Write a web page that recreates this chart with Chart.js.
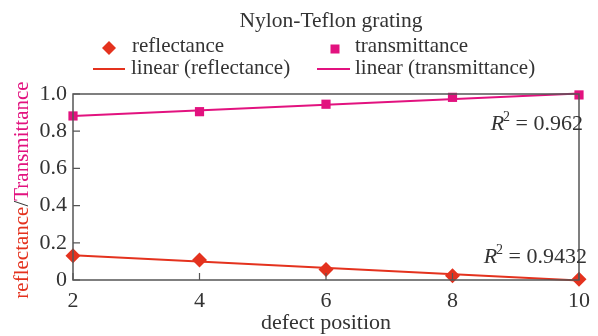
<!DOCTYPE html>
<html>
<head>
<meta charset="utf-8">
<script src="https://cdn.jsdelivr.net/npm/chart.js@4.4.1/dist/chart.umd.min.js"></script>
<style>
  html, body { margin: 0; padding: 0; background: #fff; }
  #wrap { width: 598px; height: 336px; position: relative; }
</style>
</head>
<body>
<div id="wrap"><canvas id="c" width="598" height="336"></canvas></div>
<script>
// Defect positions along the grating
const positions = [2, 4, 6, 8, 10];
// Measured reflectance and transmittance at each defect position
const reflectance = [0.131, 0.108, 0.057, 0.023, 0.004];
const transmittance = [0.882, 0.905, 0.945, 0.982, 0.995];
// Coefficients of determination shown next to the trend lines
const r2Labels = ['0.962', '0.9432'];
const xTicks = [2, 4, 6, 8, 10];
const yTicks = [0, 0.2, 0.4, 0.6, 0.8, 1.0];

const RED = '#e4321e';
const MAGENTA = '#e2127f';
const AXIS = '#555555';
const TEXT = '#333333';
const SERIF = '"Liberation Serif", "Times New Roman", serif';

// Least-squares straight line through the measured points
function linearFit(xs, ys) {
  const n = xs.length;
  const mx = xs.reduce((a, b) => a + b, 0) / n;
  const my = ys.reduce((a, b) => a + b, 0) / n;
  let sxy = 0, sxx = 0;
  for (let i = 0; i < n; i++) { sxy += (xs[i] - mx) * (ys[i] - my); sxx += (xs[i] - mx) ** 2; }
  const slope = sxy / sxx;
  const icpt = my - slope * mx;
  const x0 = xs[0], x1 = xs[n - 1];
  return [{ x: x0, y: icpt + slope * x0 }, { x: x1, y: icpt + slope * x1 }];
}

const pts = (ys) => positions.map((x, i) => ({ x, y: ys[i] }));

// Frame, inward tick marks, legend block, R² notes and the two-colour y title
const decorations = {
  id: 'decorations',
  afterDraw(chart) {
    const { ctx, chartArea: a, scales: { x, y } } = chart;
    ctx.save();
    ctx.strokeStyle = AXIS;
    ctx.lineWidth = 1.5;
    ctx.strokeRect(a.left, a.top, a.right - a.left, a.bottom - a.top);
    ctx.lineWidth = 1.2;
    ctx.beginPath();
    yTicks.forEach(v => { const py = y.getPixelForValue(v); ctx.moveTo(a.left, py); ctx.lineTo(a.left + 7, py); });
    xTicks.forEach(v => { const px = x.getPixelForValue(v); ctx.moveTo(px, a.bottom); ctx.lineTo(px, a.bottom - 7); });
    ctx.stroke();

    // Title and legend
    ctx.fillStyle = TEXT;
    ctx.textBaseline = 'middle';
    ctx.textAlign = 'center';
    ctx.font = '21.5px ' + SERIF;
    ctx.fillText('Nylon-Teflon grating', 331, 21);
    ctx.textAlign = 'left';
    ctx.font = '21px ' + SERIF;
    ctx.fillText('reflectance', 132, 46);
    ctx.fillText('transmittance', 355, 46);
    ctx.fillText('linear (reflectance)', 131, 68);
    ctx.fillText('linear (transmittance)', 355, 68);
    ctx.fillStyle = RED;
    ctx.beginPath();
    ctx.moveTo(109, 48 - 7); ctx.lineTo(116, 48); ctx.lineTo(109, 48 + 7); ctx.lineTo(102, 48); ctx.closePath();
    ctx.fill();
    ctx.fillStyle = MAGENTA;
    ctx.fillRect(330.5, 44.5, 9, 9);
    ctx.lineWidth = 2;
    ctx.strokeStyle = RED;
    ctx.beginPath(); ctx.moveTo(93, 69); ctx.lineTo(125, 69); ctx.stroke();
    ctx.strokeStyle = MAGENTA;
    ctx.beginPath(); ctx.moveTo(317, 69); ctx.lineTo(350, 69); ctx.stroke();

    // R² annotations, right-aligned inside the frame
    const drawR2 = (val, right, cy) => {
      ctx.fillStyle = TEXT;
      ctx.font = '22px ' + SERIF;
      const rest = ' = ' + val;
      const wRest = ctx.measureText(rest).width;
      ctx.font = '14px ' + SERIF;
      const wSup = ctx.measureText('2').width;
      ctx.font = 'italic 22px ' + SERIF;
      const wR = ctx.measureText('R').width;
      let px = right - wRest - wSup - wR + 1;
      ctx.textAlign = 'left';
      ctx.fillText('R', px, cy);
      px += wR - 1;
      ctx.font = '14px ' + SERIF;
      ctx.fillText('2', px, cy - 7);
      px += wSup;
      ctx.font = '22px ' + SERIF;
      ctx.fillText(rest, px, cy);
    };
    drawR2(r2Labels[0], 583, 124);
    drawR2(r2Labels[1], 587, 257);

    // Rotated axis title in two colours
    ctx.translate(22, 190);
    ctx.rotate(-Math.PI / 2);
    ctx.font = '21px ' + SERIF;
    const parts = [['reflectance', RED], ['/', TEXT], ['Transmittance', MAGENTA]];
    const total = parts.reduce((s, p) => s + ctx.measureText(p[0]).width, 0);
    let tx = -total / 2;
    parts.forEach(([t, c]) => { ctx.fillStyle = c; ctx.fillText(t, tx, 0); tx += ctx.measureText(t).width; });
    ctx.restore();
  }
};

new Chart(document.getElementById('c'), {
  type: 'scatter',
  data: {
    datasets: [
      { label: 'reflectance', data: pts(reflectance), pointStyle: 'rectRot', pointRadius: 7.5, pointHoverRadius: 7.5,
        backgroundColor: RED, borderColor: RED, borderWidth: 0, order: 0 },
      { label: 'transmittance', data: pts(transmittance), pointStyle: 'rect', pointRadius: 6.5, pointHoverRadius: 6.5,
        backgroundColor: MAGENTA, borderColor: MAGENTA, borderWidth: 0, order: 0 },
      { label: 'linear (reflectance)', data: linearFit(positions, reflectance), showLine: true, pointRadius: 0,
        borderColor: RED, borderWidth: 2, order: 1 },
      { label: 'linear (transmittance)', data: linearFit(positions, transmittance), showLine: true, pointRadius: 0,
        borderColor: MAGENTA, borderWidth: 2, order: 1 }
    ]
  },
  options: {
    responsive: false,
    animation: false,
    clip: false,
    layout: { padding: { left: 0, right: 9, top: 94, bottom: 0 } },
    plugins: { legend: { display: false }, tooltip: { enabled: false } },
    scales: {
      x: {
        type: 'linear', min: 2, max: 10,
        afterBuildTicks: s => { s.ticks = xTicks.map(v => ({ value: v })); },
        afterFit: s => { s.height = 56; },
        grid: { display: false, drawTicks: false },
        border: { display: false },
        ticks: { color: TEXT, font: { family: SERIF, size: 22 }, padding: 8 },
        title: { display: true, text: 'defect position', color: TEXT, font: { family: SERIF, size: 22 }, padding: { top: 3, bottom: 0 } }
      },
      y: {
        min: 0, max: 1,
        afterBuildTicks: s => { s.ticks = yTicks.map(v => ({ value: v })); },
        afterFit: s => { s.width = 73; },
        grid: { display: false, drawTicks: false },
        border: { display: false },
        ticks: { color: TEXT, font: { family: SERIF, size: 22 }, padding: 6,
          callback: v => v === 0 ? '0' : v.toFixed(1) }
      }
    }
  },
  plugins: [decorations]
});
</script>
</body>
</html>
